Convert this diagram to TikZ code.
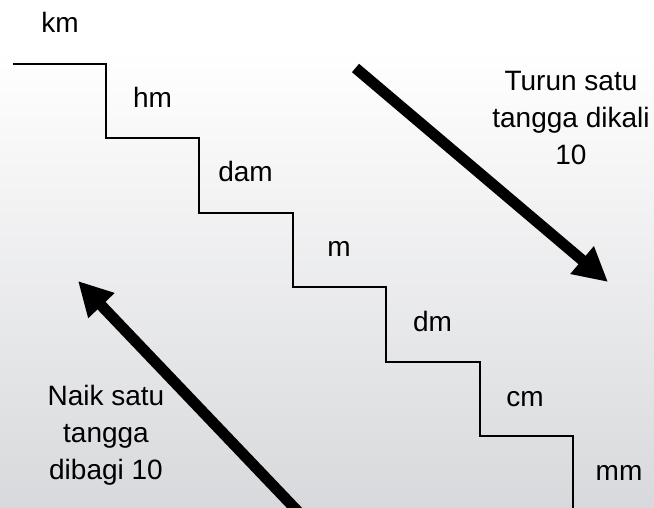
\documentclass[tikz,border=0pt]{standalone}
\usepackage{fontspec}
\setmainfont{Liberation Sans}
\usetikzlibrary{arrows.meta}
\definecolor{bgbot}{RGB}{216,217,220}
\tikzset{
  lbl/.style={font=\fontsize{28}{36.5}\selectfont, inner sep=0pt, anchor=base},
  blk/.style={font=\fontsize{28}{37}\selectfont, inner sep=0pt, align=center, anchor=north},
  stair/.style={line width=2pt, line join=miter},
  bigarrow/.style={line width=11pt, -{Triangle[length=34pt,width=34pt]}}
}
\begin{document}
\begin{tikzpicture}[x=1pt,y=-1pt]
\useasboundingbox (0,0) rectangle (654,508);
\clip (0,0) rectangle (654,508);
\fill[white] (0,0) rectangle (654,50);
\shade[top color=white, bottom color=bgbot] (0,50) rectangle (654,508);
% staircase
\draw[stair] (13,64) -- (106,64) -- (106,138.4) -- (199,138.4) -- (199,212.8)
  -- (292.5,212.8) -- (292.5,287.2) -- (385.5,287.2) -- (385.5,361.6)
  -- (479.5,361.6) -- (479.5,436) -- (572.5,436) -- (572.5,515);
% unit labels
\node[lbl] (km) at (60,33) {km};
\node[lbl] (hm) at (152.5,107.4) {hm};
\node[lbl] (dam) at (245.5,182) {dam};
\node[lbl] (m) at (339,257) {m};
\node[lbl] (dm) at (432.5,331.5) {dm};
\node[lbl] (cm) at (525,406) {cm};
\node[lbl] (mm) at (619,480) {mm};
% arrows
\coordinate (dstart) at (355.5,68);
\coordinate (dend) at (608,282);
\draw[bigarrow] (dstart) -- (dend);
\coordinate (ustart) at (306,520);
\coordinate (uend) at (78,281);
\draw[bigarrow] (ustart) -- (uend);
% texts
\node[blk] (turun) at (571,71) {Turun satu\\tangga dikali\\10};
\node[blk] (naik) at (106,385) {Naik satu\\tangga\\dibagi 10};
\end{tikzpicture}
\end{document}
